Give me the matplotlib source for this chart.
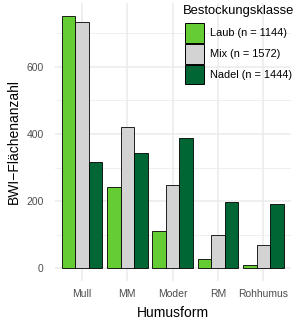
import matplotlib
matplotlib.use("Agg")
import matplotlib.pyplot as plt
from matplotlib.patches import Patch
import numpy as np

categories = ["Mull", "MM", "Moder", "RM", "Rohhumus"]
laub = [752, 243, 110, 29, 9]
mix = [733, 420, 247, 100, 71]
nadel = [317, 342, 387, 198, 193]
series_labels = ["Laub (n = 1144)", "Mix (n = 1572)", "Nadel (n = 1444)"]
colors = ["#66CC33", "#D3D3D3", "#006633"]

plt.rcParams['font.family'] = ['Liberation Sans', 'DejaVu Sans']

W, H = 300, 327
fig = plt.figure(figsize=(W/100, H/100), dpi=100)
l, r, t, b = 54.8, 290.5, 3, 281
ax = fig.add_axes([l/W, (H-b)/H, (r-l)/W, (b-t)/H])

x = np.arange(1, len(categories)+1)
bw = 0.9/3
for i, (vals, c, lab) in enumerate(zip([laub, mix, nadel], colors, series_labels)):
    ax.bar(x + (i-1)*bw, vals, width=bw, color=c, edgecolor="black", linewidth=0.6, label=lab, zorder=3)

ax.set_xlim(0.4, 5.6)
ymax = max(max(laub), max(mix), max(nadel))
ax.set_ylim(-0.05*ymax, 1.05*ymax)
ax.set_yticks([0, 200, 400, 600])
ax.set_yticks([100, 300, 500, 700], minor=True)
ax.set_xticks(x)
ax.set_xticklabels(categories)
ax.grid(True, which="major", color="#EBEBEB", linewidth=1.1, zorder=0)
ax.grid(True, which="minor", axis="y", color="#EBEBEB", linewidth=0.55, zorder=0)
ax.set_axisbelow(True)
for s in ax.spines.values():
    s.set_visible(False)
ax.tick_params(axis="both", which="both", length=0, labelsize=7.5, labelcolor="#4D4D4D")
ax.tick_params(axis="x", pad=6)
ax.tick_params(axis="y", pad=8)
ax.set_xlabel("Humusform", fontsize=10, labelpad=5)
ax.set_ylabel("BWI\u2212Fl\u00e4chenanzahl", fontsize=10, labelpad=4)

fig.text(183/W, 1 - 5/H, "Bestockungsklasse", fontsize=9.4, ha="left", va="top")
handles = [Patch(facecolor=c, edgecolor="black", linewidth=0.7) for c in colors]
leg = fig.legend(handles, series_labels, loc="upper left",
                 bbox_to_anchor=(185/W, 1 - 23/H), bbox_transform=fig.transFigure,
                 frameon=False, fontsize=7.9,
                 handlelength=1.75, handleheight=2.39, labelspacing=0.1, handletextpad=0.5,
                 borderaxespad=0.0, borderpad=0.0)

fig.savefig("out.png", dpi=100)
